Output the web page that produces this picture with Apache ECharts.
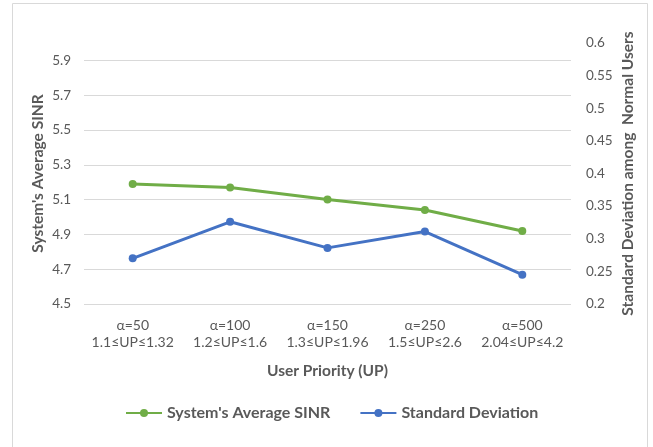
<!DOCTYPE html>
<html>
<head>
<meta charset="utf-8">
<script src="https://cdn.jsdelivr.net/npm/echarts@6/dist/echarts.min.js"></script>
<style>
  html, body { margin: 0; padding: 0; background: #fff; }
  #chart { width: 653px; height: 447px; }
</style>
</head>
<body>
<div id="chart"></div>
<script>
const alphaLabels = ['α=50', 'α=100', 'α=150', 'α=250', 'α=500'];
const upRanges = ['1.1≤UP≤1.32', '1.2≤UP≤1.6', '1.3≤UP≤1.96', '1.5≤UP≤2.6', '2.04≤UP≤4.2'];
const sinrValues = [5.19, 5.17, 5.10, 5.04, 4.92];
const stdValues = [0.27, 0.326, 0.286, 0.311, 0.245];
const leftTicks = [4.5, 4.7, 4.9, 5.1, 5.3, 5.5, 5.7, 5.9];

const categories = alphaLabels.map((a, i) => a + '\n' + upRanges[i]);

const FONT = 'Lato, "Liberation Sans", sans-serif';
const GREEN = '#70AD47';
const BLUE = '#4472C4';
const TEXT = '#595959';

const chart = echarts.init(document.getElementById('chart'));

const option = {
  animation: false,
  textStyle: { fontFamily: FONT },
  graphic: [
    {
      type: 'rect',
      shape: { x: 12.5, y: 3.5, width: 635, height: 470 },
      style: { fill: 'none', stroke: '#D9D9D9', lineWidth: 1 },
      silent: true
    }
  ],
  grid: {
    left: 84,
    right: 82,
    top: 43,
    bottom: 143
  },
  legend: {
    bottom: 21,
    left: 120,
    itemWidth: 36,
    itemHeight: 10,
    itemGap: 29,
    textStyle: {
      color: TEXT,
      fontFamily: FONT,
      fontSize: 16,
      fontWeight: 'bold'
    },
    data: ["System's Average SINR", 'Standard Deviation']
  },
  xAxis: {
    type: 'category',
    data: categories,
    name: 'User Priority (UP)',
    nameLocation: 'middle',
    nameGap: 59,
    nameMoveOverlap: false,
    nameTextStyle: { color: TEXT, fontSize: 15.5, fontWeight: 'bold', fontFamily: FONT },
    axisLine: { show: false },
    axisTick: { show: false },
    axisLabel: {
      interval: 0,
      color: TEXT,
      fontSize: 14,
      lineHeight: 17,
      margin: 13,
      fontFamily: FONT
    }
  },
  yAxis: [
    {
      type: 'value',
      min: 4.5,
      max: 6.0,
      name: "System's Average SINR",
      nameLocation: 'middle',
      nameGap: 38,
      nameMoveOverlap: false,
      nameTextStyle: { color: TEXT, fontSize: 15.5, fontWeight: 'bold', fontFamily: FONT },
      axisLine: { show: false },
      axisTick: { show: false, customValues: leftTicks },
      axisLabel: {
        customValues: leftTicks,
        color: TEXT,
        fontSize: 13.5,
        margin: 13,
        fontFamily: FONT,
        formatter: v => v.toFixed(1)
      },
      splitLine: { lineStyle: { color: '#D9D9D9', width: 1 } }
    },
    {
      type: 'value',
      min: 0.2,
      max: 0.6,
      interval: 0.05,
      name: 'Standard Deviation among  Normal Users',
      nameLocation: 'middle',
      nameGap: 49,
      nameMoveOverlap: false,
      nameTextStyle: { color: TEXT, fontSize: 15.5, fontWeight: 'bold', fontFamily: FONT },
      axisLine: { show: false },
      axisTick: { show: false },
      axisLabel: {
        color: TEXT,
        fontSize: 13.5,
        margin: 15,
        fontFamily: FONT,
        formatter: v => String(Math.round(v * 100) / 100)
      },
      splitLine: { show: false }
    }
  ],
  series: [
    {
      name: "System's Average SINR",
      type: 'line',
      yAxisIndex: 0,
      data: sinrValues,
      symbol: 'circle',
      symbolSize: 8,
      lineStyle: { color: GREEN, width: 3 },
      itemStyle: { color: GREEN }
    },
    {
      name: 'Standard Deviation',
      type: 'line',
      yAxisIndex: 1,
      data: stdValues,
      symbol: 'circle',
      symbolSize: 8,
      lineStyle: { color: BLUE, width: 3 },
      itemStyle: { color: BLUE }
    }
  ]
};

chart.setOption(option);
</script>
</body>
</html>
